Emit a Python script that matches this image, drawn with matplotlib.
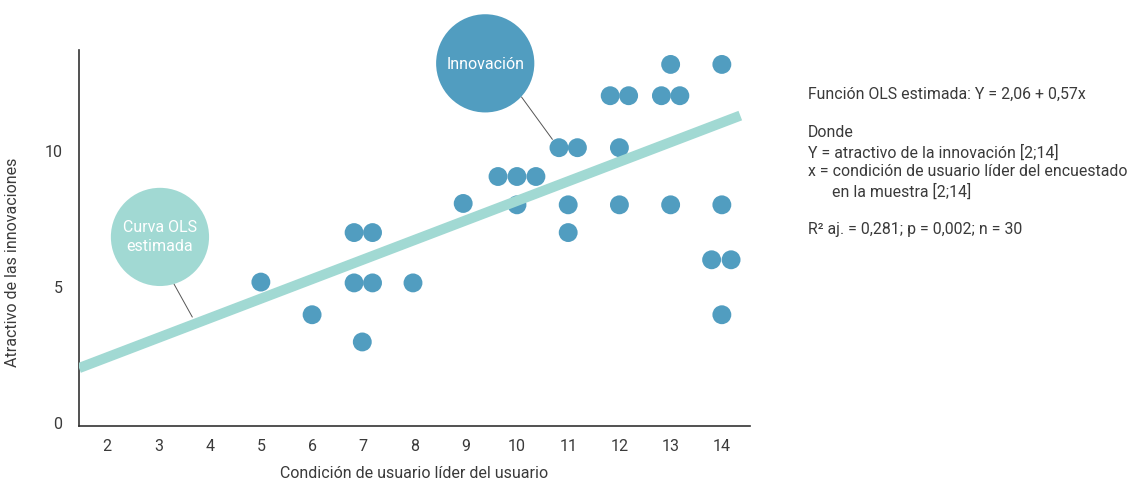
#!/usr/bin/env python3
# plot.py - OLS scatter: lead user condition vs attractiveness of innovations

import matplotlib
matplotlib.use('Agg')
import matplotlib.pyplot as plt

# survey responses (x = lead user condition, y = attractiveness)
user_x = [5, 6, 6.82, 7.18, 6.82, 7.18, 6.98, 7.97, 8.95,
          9.63, 10.0, 10.37, 10.0, 10.82, 11.18, 11.0, 11.0,
          11.82, 12.18, 12.0, 12.0, 12.82, 13.18, 13.0, 13.0,
          14.0, 14.0, 13.8, 14.18, 14.0]
attract_y = [5.18, 3.98, 7.0, 7.0, 5.15, 5.15, 2.98, 5.15, 8.07,
             9.06, 9.06, 9.06, 8.02, 10.12, 10.12, 8.02, 7.0,
             12.03, 12.03, 10.12, 8.02, 12.03, 12.03, 13.18, 8.02,
             13.18, 8.02, 6.0, 6.0, 3.98]

# estimated OLS curve as drawn
ols_x = [1.45, 14.36]
ols_y = [2.02, 11.3]

x_ticks = list(range(2, 15))
y_ticks = [0, 5, 10]

info_lines = [
    "Función OLS estimada: Y = 2,06 + 0,57x",
    "",
    "Donde",
    "Y = atractivo de la innovación [2;14]",
    "x = condición de usuario líder del encuestado",
    "      en la muestra [2;14]",
    "",
    "R² aj. = 0,281; p = 0,002; n = 30",
]

DOT = '#519dc0'
TEAL = '#a1d9d3'
TEXT = '#3a3a3a'

plt.rcParams['font.family'] = ['Roboto', 'DejaVu Sans']

fig = plt.figure(figsize=(11.34, 4.79), dpi=100)
ax = fig.add_axes([0.0697, 0.1106, 0.5917, 0.785])

ax.scatter(user_x, attract_y, s=185, color=DOT, edgecolors='none', zorder=3)
ax.plot(ols_x, ols_y, color=TEAL, linewidth=7.3, solid_capstyle='butt', zorder=4)

# callout bubbles
ax.plot([3.28, 3.66], [5.19, 3.9], color='#555555', linewidth=0.7, zorder=2)
ax.scatter([3.03], [6.84], s=5000, color=TEAL, edgecolors='none', zorder=5, clip_on=False)
ax.text(3.03, 6.84, "Curva OLS\nestimada", color='white', fontsize=11.5, ha='center',
        va='center', linespacing=1.3, zorder=6)

ax.plot([10.09, 10.69], [11.98, 10.43], color='#555555', linewidth=0.7, zorder=2)
ax.scatter([9.38], [13.22], s=5000, color=DOT, edgecolors='none', zorder=5, clip_on=False)
ax.text(9.38, 13.18, "Innovación", color='white', fontsize=11.5, ha='center',
        va='center', zorder=6, clip_on=False)

ax.set_xlim(1.45, 14.55)
ax.set_ylim(-0.11, 13.71)
ax.set_xticks(x_ticks)
ax.set_yticks(y_ticks)
ax.tick_params(length=0, labelsize=11.5, labelcolor=TEXT)
ax.tick_params(axis='x', pad=9)
ax.tick_params(axis='y', pad=12)
for side in ['top', 'right']:
    ax.spines[side].set_visible(False)
for side in ['left', 'bottom']:
    ax.spines[side].set_color('#333333')
    ax.spines[side].set_linewidth(1.2)

ax.set_xlabel("Condición de usuario líder del usuario", fontsize=11.5, color=TEXT, labelpad=9)
ax.set_ylabel("Atractivo de las innovaciones", fontsize=11.5, color=TEXT)
ax.yaxis.set_label_coords(-0.088, 0.435)

fig.text(0.7125, 0.818, "\n".join(info_lines), fontsize=11.4, color=TEXT,
         ha='left', va='top', linespacing=1.32)

fig.savefig('out.png', dpi=100)
